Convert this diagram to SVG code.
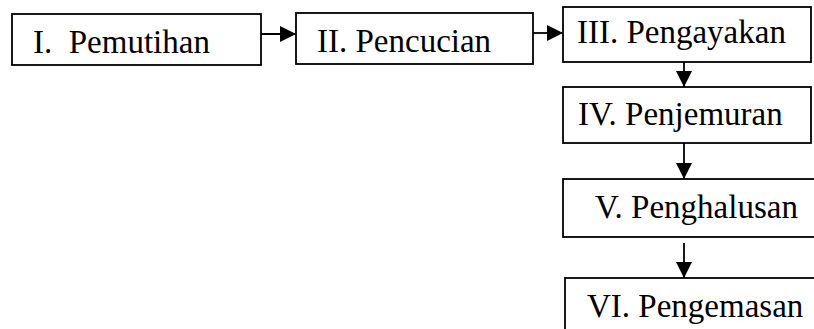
<svg xmlns="http://www.w3.org/2000/svg" width="814" height="329" viewBox="0 0 814 329">
<style>
.box{fill:#fff;stroke:#000;stroke-width:1.8}
.lbl{font-family:'Liberation Serif','Times New Roman',serif;font-size:33px;fill:#000}
.con{stroke:#000;stroke-width:1.8;fill:none;marker-end:url(#ah)}
</style>
<defs>
<marker id="ah" markerUnits="userSpaceOnUse" markerWidth="17" markerHeight="17" viewBox="0 0 17 17" refX="16" refY="8.5" orient="auto">
<path d="M0,0.5 L16,8.5 L0,16.5 Z" fill="#000"/>
</marker>
</defs>
<g id="n1"><rect class="box" x="12" y="14" width="249" height="51"/><text class="lbl" x="33" y="53" xml:space="preserve">I.  Pemutihan</text></g>
<g id="n2"><rect class="box" x="296" y="13" width="237" height="51"/><text class="lbl" x="317" y="52">II. Pencucian</text></g>
<g id="n3"><rect class="box" x="563" y="7" width="248" height="55"/><text class="lbl" x="577" y="43">III. Pengayakan</text></g>
<g id="n4"><rect class="box" x="563" y="87" width="248" height="56"/><text class="lbl" x="578" y="125">IV. Penjemuran</text></g>
<g id="n5"><rect class="box" x="563" y="179" width="270" height="58"/><text class="lbl" x="595" y="218">V. Penghalusan</text></g>
<g id="n6"><rect class="box" x="565" y="278" width="270" height="70"/><text class="lbl" x="587" y="317">VI. Pengemasan</text></g>
<g id="connectors">
<line class="con" x1="261" y1="34" x2="296" y2="34"/>
<line class="con" x1="533" y1="33" x2="563" y2="33"/>
<line class="con" x1="684" y1="62" x2="684" y2="87"/>
<line class="con" x1="684" y1="143" x2="684" y2="179"/>
<line class="con" x1="684" y1="243" x2="684" y2="278"/>
</g>
</svg>
